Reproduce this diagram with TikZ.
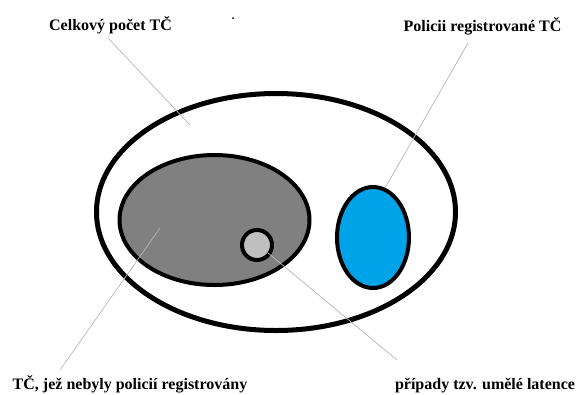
\documentclass[tikz,border=0pt]{standalone}
\usepackage{fontspec}
\setmainfont{Liberation Serif}
\begin{document}
\begin{tikzpicture}[x=1bp,y=-1bp,
  lbl/.style={font=\bfseries\fontsize{16bp}{19bp}\selectfont,anchor=base,inner sep=0pt},
  leader/.style={draw=black!28,line width=0.7bp},
  blob/.style={draw=black,line width=4bp}]
\useasboundingbox (0,0) rectangle (576,394);
\fill[white] (0,0) rectangle (576,394);
% shapes
\draw[draw=black,line width=5bp] (276,212) ellipse [x radius=179.5,y radius=118.5];
\draw[blob,fill=black!50] (214.5,220) ellipse [x radius=95,y radius=65];
\draw[blob,fill=black!25] (257,245) circle [radius=15];
\draw[blob,fill={rgb,255:red,0;green,162;blue,232}] (373,237.5) ellipse [x radius=36,y radius=50.5];
\fill (233,18) circle [radius=1];
% labels
\node[lbl] (celk) at (110.5,30) {Celkový počet TČ};
\node[lbl] (pol) at (482.5,31) {Policii registrované TČ};
\node[lbl] (neb) at (130,389) {TČ, jež nebyly policií registrovány};
\node[lbl] (lat) at (485,389) {případy tzv. umělé latence};
% leader lines
\coordinate (c1a) at (108,38);  \coordinate (c1b) at (190,125);
\coordinate (c2a) at (468,43);  \coordinate (c2b) at (385,188);
\coordinate (c3a) at (60,370);  \coordinate (c3b) at (160,228);
\coordinate (c4a) at (268,253); \coordinate (c4b) at (397,360);
\draw[leader] (c1a) -- (c1b);
\draw[leader] (c2a) -- (c2b);
\draw[leader] (c3a) -- (c3b);
\draw[leader] (c4a) -- (c4b);
\end{tikzpicture}
\end{document}
